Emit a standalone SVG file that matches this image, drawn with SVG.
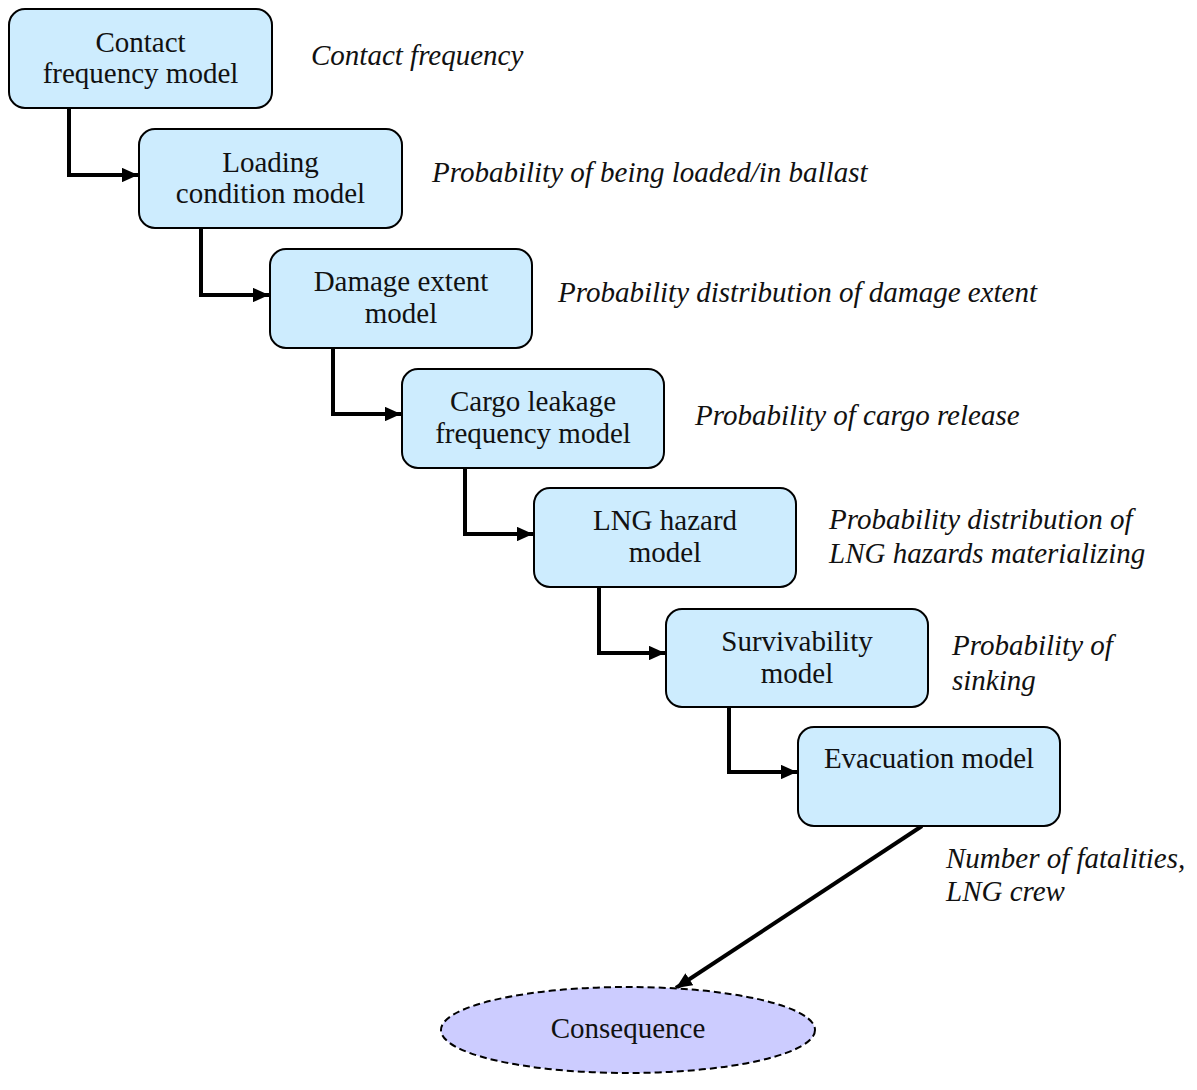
<svg xmlns="http://www.w3.org/2000/svg" width="1197" height="1090" viewBox="0 0 1197 1090">
<style>
.box{fill:#cdecfe;stroke:#000;stroke-width:2}
.t{font-family:"Liberation Serif","Times New Roman",serif;font-size:29px;fill:#111;text-anchor:middle}
.l{font-family:"Liberation Serif","Times New Roman",serif;font-size:29px;font-style:italic;fill:#111}
.c{fill:none;stroke:#000;stroke-width:4}
</style>
<defs>
<marker id="ah" viewBox="0 0 10 10" refX="10" refY="5" markerWidth="4" markerHeight="3.6" markerUnits="strokeWidth" orient="auto" preserveAspectRatio="none">
<path d="M0,0 L10,5 L0,10 z" fill="#000"/>
</marker>
</defs>
<rect width="1197" height="1090" fill="#fff"/>
<g id="connectors">
<path class="c" d="M69,108 V175 H138" marker-end="url(#ah)"/>
<path class="c" d="M201,228 V295 H269" marker-end="url(#ah)"/>
<path class="c" d="M333,348 V414 H401" marker-end="url(#ah)"/>
<path class="c" d="M465,468 V534 H533" marker-end="url(#ah)"/>
<path class="c" d="M599,587 V653 H665" marker-end="url(#ah)"/>
<path class="c" d="M729,707 V772 H797" marker-end="url(#ah)"/>
<path class="c" d="M922,826 L676,988" marker-end="url(#ah)"/>
</g>
<g id="n1"><rect class="box" x="9" y="9" width="263" height="99" rx="16"/><text class="t" x="140.5" y="52">Contact</text><text class="t" x="140.5" y="83">frequency model</text></g>
<g id="n2"><rect class="box" x="139" y="129" width="263" height="99" rx="16"/><text class="t" x="270.5" y="172">Loading</text><text class="t" x="270.5" y="203">condition model</text></g>
<g id="n3"><rect class="box" x="270" y="249" width="262" height="99" rx="16"/><text class="t" x="401" y="291">Damage extent</text><text class="t" x="401" y="323">model</text></g>
<g id="n4"><rect class="box" x="402" y="369" width="262" height="99" rx="16"/><text class="t" x="533" y="411">Cargo leakage</text><text class="t" x="533" y="443">frequency model</text></g>
<g id="n5"><rect class="box" x="534" y="488" width="262" height="99" rx="16"/><text class="t" x="665" y="530">LNG hazard</text><text class="t" x="665" y="562">model</text></g>
<g id="n6"><rect class="box" x="666" y="609" width="262" height="98" rx="16"/><text class="t" x="797" y="651">Survivability</text><text class="t" x="797" y="683">model</text></g>
<g id="n7"><rect class="box" x="798" y="727" width="262" height="99" rx="16"/><text class="t" x="929" y="768">Evacuation model</text></g>
<g id="n8"><ellipse cx="628" cy="1030" rx="187" ry="43" fill="#ccccff" stroke="#000" stroke-width="2" stroke-dasharray="7,4"/><text class="t" x="628" y="1038">Consequence</text></g>
<g id="labels">
<text class="l" x="311" y="65">Contact frequency</text>
<text class="l" x="432" y="182">Probability of being loaded/in ballast</text>
<text class="l" x="558" y="302">Probability distribution of damage extent</text>
<text class="l" x="695" y="425">Probability of cargo release</text>
<text class="l" x="829" y="529">Probability distribution of</text>
<text class="l" x="829" y="563">LNG hazards materializing</text>
<text class="l" x="952" y="655">Probability of</text>
<text class="l" x="952" y="690">sinking</text>
<text class="l" x="946" y="868">Number of fatalities,</text>
<text class="l" x="946" y="901">LNG crew</text>
</g>
</svg>
